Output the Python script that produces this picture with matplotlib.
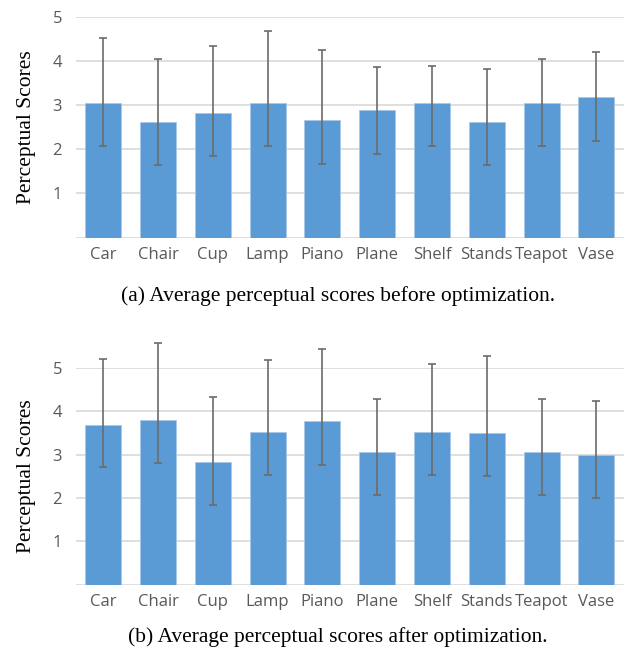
import numpy as np
import matplotlib.pyplot as plt

categories = ['Car', 'Chair', 'Cup', 'Lamp', 'Piano', 'Plane', 'Shelf', 'Stands', 'Teapot', 'Vase']

# (a) before optimization
before_mean = [3.05, 2.62, 2.82, 3.05, 2.66, 2.90, 3.05, 2.63, 3.05, 3.19]
before_low = [2.08, 1.65, 1.84, 2.08, 1.66, 1.90, 2.08, 1.65, 2.08, 2.19]
before_high = [4.53, 4.05, 4.34, 4.67, 4.26, 3.86, 3.89, 3.82, 4.05, 4.20]

# (b) after optimization
after_mean = [3.69, 3.79, 2.83, 3.53, 3.77, 3.06, 3.53, 3.50, 3.06, 3.00]
after_low = [2.71, 2.80, 1.84, 2.54, 2.76, 2.07, 2.54, 2.50, 2.07, 2.00]
after_high = [5.21, 5.57, 4.32, 5.17, 5.44, 4.29, 5.08, 5.28, 4.27, 4.24]

captions = ['(a) Average perceptual scores before optimization.',
            '(b) Average perceptual scores after optimization.']

BAR = '#5B9BD5'
GRID = '#D9D9D9'
TXT = '#595959'
SERIF = 'Liberation Serif'
SANS = 'Open Sans'


def draw(ax, mean, low, high):
    x = np.arange(len(categories))
    mean = np.array(mean)
    yerr = [mean - np.array(low), np.array(high) - mean]
    ax.bar(x, mean, width=0.66, color=BAR, edgecolor='#A9C8EA', linewidth=0.6, zorder=2)
    ax.errorbar(x, mean, yerr=yerr, fmt='none', ecolor='#6B6B6B', elinewidth=1.2,
                capsize=3, capthick=1.2, zorder=3, clip_on=False)
    ax.set_xlim(-0.5, len(categories) - 0.5)
    ax.set_ylim(0, 5)
    ax.set_yticks([1, 2, 3, 4, 5])
    ax.set_xticks(x)
    ax.set_xticklabels(categories, fontsize=12, color=TXT, family=SANS)
    for lab in ax.get_yticklabels():
        lab.set_fontsize(12)
        lab.set_color(TXT)
        lab.set_family(SANS)
    for v in range(0, 6):
        ax.axhline(v, color=GRID, linewidth=1.2, zorder=1)
    for s in ax.spines.values():
        s.set_visible(False)
    ax.tick_params(length=0, pad=7)
    ax.tick_params(axis='y', pad=10)
    ax.set_ylabel('Perceptual Scores', fontsize=15.5, family=SERIF, labelpad=12)


fig = plt.figure(figsize=(6.32, 6.51), dpi=100)
ax1 = fig.add_axes([0.120, 0.635, 0.867, 0.339])
ax2 = fig.add_axes([0.120, 0.1018, 0.867, 0.3333])
draw(ax1, before_mean, before_low, before_high)
draw(ax2, after_mean, after_low, after_high)

fig.text(0.535, 1 - 296 / 651, captions[0], ha='center', va='center', fontsize=15.5, family=SERIF)
fig.text(0.535, 1 - 637 / 651, captions[1], ha='center', va='center', fontsize=15.5, family=SERIF)

plt.savefig('out.png', dpi=100)
